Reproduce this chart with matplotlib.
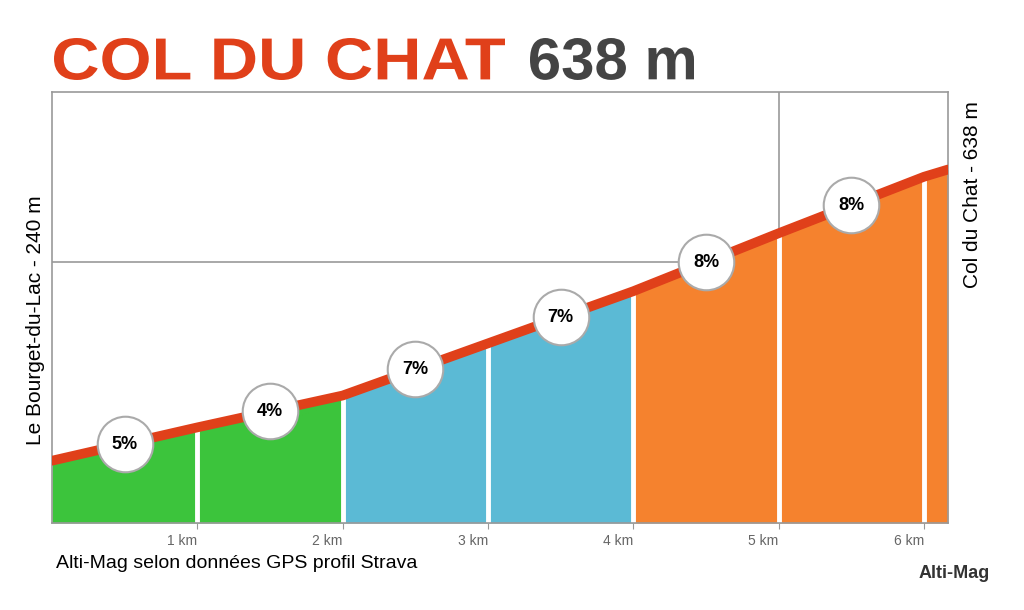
import matplotlib
matplotlib.use("Agg")
import matplotlib.pyplot as plt
import numpy as np
from matplotlib.textpath import TextPath
from matplotlib.patches import PathPatch
from matplotlib.font_manager import FontProperties
from matplotlib.transforms import Affine2D

plt.rcParams['font.family'] = ['Liberation Sans', 'DejaVu Sans']

dist = [0, 1, 2, 3, 4, 5, 6, 6.165]
elev = [236, 282, 326, 398, 470, 550, 628, 638]
grades = ["5%", "4%", "7%", "7%", "8%", "8%"]
seg_colors = ["#3cc43c", "#3cc43c", "#5bbad5", "#5bbad5", "#f5822e", "#f5822e", "#f5822e"]
tick_km = [1, 2, 3, 4, 5, 6]
tick_labels = ["1 km", "2 km", "3 km", "4 km", "5 km", "6 km"]

fig = plt.figure(figsize=(10.24, 6.10), dpi=100)
ax = fig.add_axes([52/1024, 1-523/610, (948-52)/1024, (523-92)/610])
ymin, ymax = 150, 745
ax.set_xlim(0, dist[-1]); ax.set_ylim(ymin, ymax)

for i in range(len(dist)-1):
    ax.fill_between(dist[i:i+2], ymin, elev[i:i+2], color=seg_colors[i], lw=0, zorder=1)
for k in tick_km:
    e = np.interp(k, dist, elev)
    ax.plot([k, k], [ymin, e], color="white", lw=3.5, zorder=2)
ax.axhline(510, color="#999999", lw=1.2, zorder=0)
ax.axvline(5, color="#999999", lw=1.2, zorder=0)
ax.plot(dist, elev, color="#e0401a", lw=7, solid_capstyle="round", zorder=3)
for i, g in enumerate(grades):
    xm = i + 0.5
    ym = np.interp(xm, dist, elev)
    ax.scatter([xm], [ym], s=1600, color="white", edgecolor="#aaaaaa", lw=1.5, zorder=4)
    ax.text(xm, ym, g, ha="center", va="center", fontsize=13, fontweight="bold", zorder=5)

for s in ax.spines.values():
    s.set_color("#999999"); s.set_linewidth(1.2)
ax.set_yticks([])
ax.set_xticks(tick_km)
ax.set_xticklabels(tick_labels, ha="right", color="#666666", fontsize=10)
ax.tick_params(axis="x", length=4, color="#999999", pad=4)

def wide_text(s, x0, x1, ytop, ybot, color):
    fp = FontProperties(family="Liberation Sans", weight="bold")
    tp = TextPath((0, 0), s, size=100, prop=fp)
    ext = tp.get_extents()
    sx = (x1 - x0) / ext.width
    sy = (ybot - ytop) / ext.height
    tr = (Affine2D().translate(-ext.x0, -ext.y0).scale(sx, sy)
          .translate(x0, 610 - ybot).scale(1/1024, 1/610))
    p = PathPatch(tr.transform_path(tp), color=color, lw=0, transform=fig.transFigure)
    fig.patches.append(p)

wide_text("COL DU CHAT", 54, 505, 38, 80, "#e0401a")
wide_text("638 m", 530, 694, 38, 80, "#444444")
fig.text(36/1024, 1-320/610, "Le Bourget-du-Lac - 240 m", rotation=90, fontsize=15, va="center", ha="center")
fig.text(972/1024, 1-195/610, "Col du Chat - 638 m", rotation=90, fontsize=15, va="center", ha="center")
fig.text(56/1024, 1-563/610, "Alti-Mag selon données GPS profil Strava", fontsize=14, va="center")
fig.text(990/1024, 1-573/610, "Alti-Mag", fontsize=13, fontweight="bold", color="#333333", va="center", ha="right")
fig.savefig("out.png", dpi=100)
